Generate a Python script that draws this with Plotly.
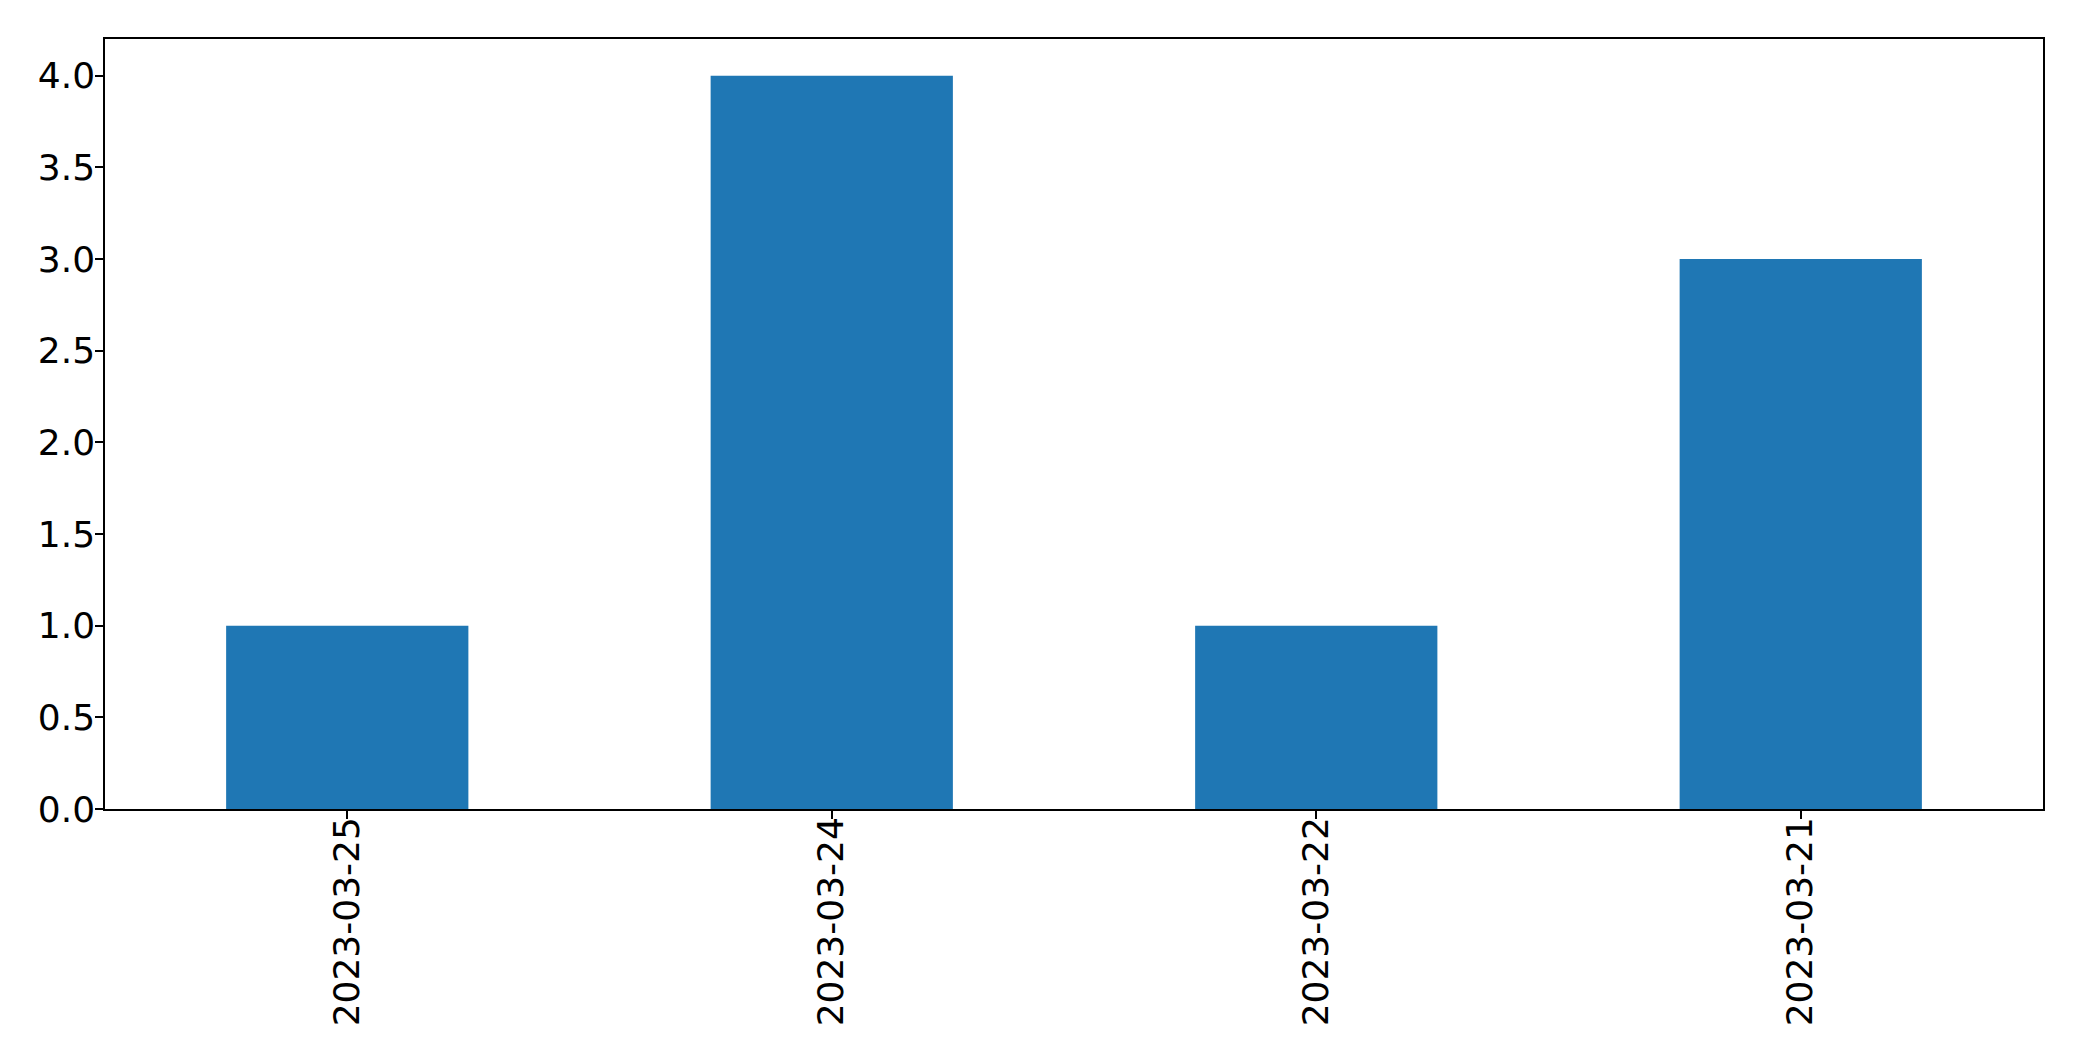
import plotly.graph_objects as go

categories = ["2023-03-25", "2023-03-24", "2023-03-22", "2023-03-21"]
values = [1, 4, 1, 3]
y_ticks = [0.0, 0.5, 1.0, 1.5, 2.0, 2.5, 3.0, 3.5, 4.0]

fig = go.Figure(go.Bar(x=categories, y=values, width=0.5,
                       marker=dict(color="#1f77b4", line=dict(width=0))))

font = dict(family="DejaVu Sans", size=36, color="black")
# page body has an 8px margin, so the figure is offset by 8px
fig.update_layout(
    width=2074, height=1053,
    margin=dict(l=97, r=39, t=31, b=252),
    paper_bgcolor="white", plot_bgcolor="white",
    showlegend=False, font=font,
)
fig.update_xaxes(type="category", range=[-0.5, 3.5], tickangle=-90,
                 showline=True, linecolor="black", linewidth=1.5, mirror=True,
                 ticks="outside", ticklen=8, tickwidth=1.5, tickcolor="black",
                 ticklabelstandoff=-16,
                 showgrid=False, zeroline=False, tickfont=font)
fig.update_yaxes(range=[0, 4.2], tickvals=y_ticks,
                 ticktext=[f"{v:.1f}" for v in y_ticks],
                 showline=True, linecolor="black", linewidth=1.5, mirror=True,
                 ticks="outside", ticklen=8, tickwidth=1.5, tickcolor="black",
                 ticklabelstandoff=-7,
                 showgrid=False, zeroline=False, tickfont=font)

fig.write_html("out.html")
